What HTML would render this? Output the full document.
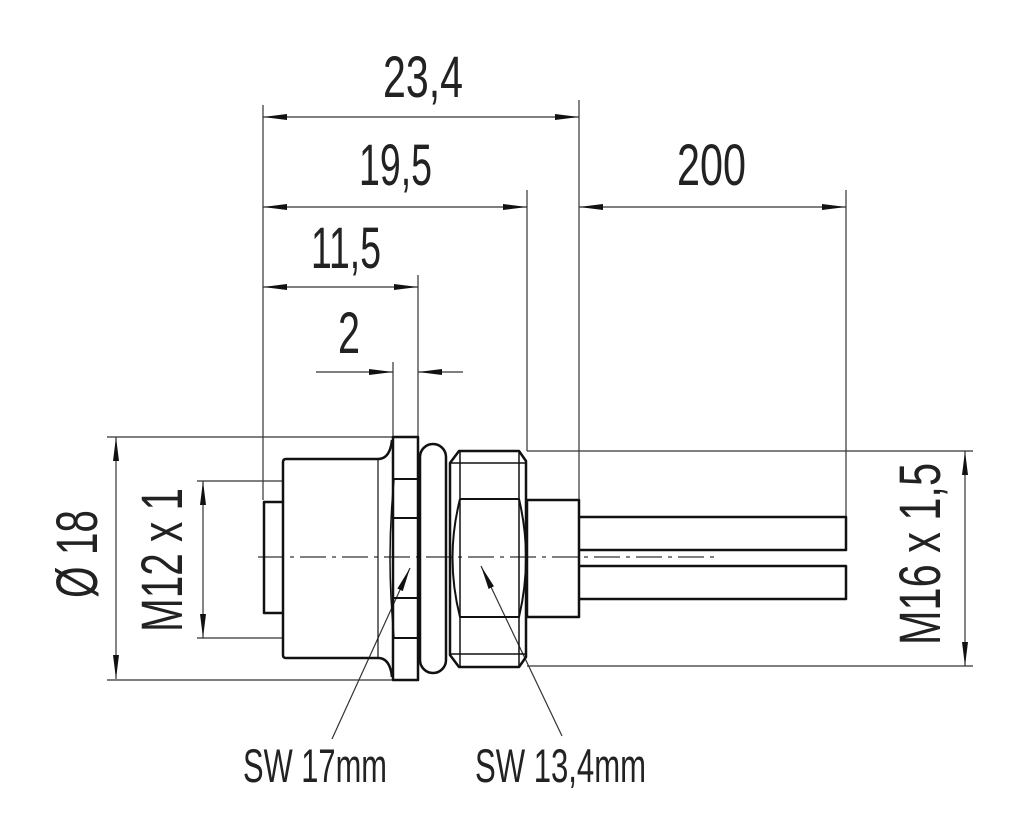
<!DOCTYPE html>
<html><head><meta charset="utf-8"><style>html,body{margin:0;padding:0;background:#fff}svg{display:block}</style></head><body>
<svg width="1023" height="840" viewBox="0 0 1023 840" xmlns="http://www.w3.org/2000/svg">
<defs>
<marker id="a" viewBox="0 0 24 8" refX="24" refY="4" markerWidth="24" markerHeight="8" markerUnits="userSpaceOnUse" orient="auto-start-reverse"><path d="M0,1 L24,4 L0,7 Z" fill="#111"/></marker>
</defs>
<g font-family="Liberation Sans, sans-serif" fill="#222" font-size="58">
<text x="383" y="97" textLength="80" lengthAdjust="spacingAndGlyphs">23,4</text>
<text x="359" y="185" textLength="73" lengthAdjust="spacingAndGlyphs">19,5</text>
<text x="677" y="185" textLength="69" lengthAdjust="spacingAndGlyphs">200</text>
<text x="311" y="268" textLength="70" lengthAdjust="spacingAndGlyphs">11,5</text>
<text x="338" y="353" textLength="22" lengthAdjust="spacingAndGlyphs">2</text>
<text transform="translate(97,598) rotate(-90)" textLength="88" lengthAdjust="spacingAndGlyphs">Ø 18</text>
<text transform="translate(182,632) rotate(-90)" textLength="144" lengthAdjust="spacingAndGlyphs">M12 x 1</text>
<text transform="translate(940,645) rotate(-90)" textLength="182" lengthAdjust="spacingAndGlyphs">M16 x 1,5</text>
<text x="243" y="782" font-size="47" textLength="144" lengthAdjust="spacingAndGlyphs">SW 17mm</text>
<text x="475" y="782" font-size="47" textLength="171" lengthAdjust="spacingAndGlyphs">SW 13,4mm</text>
</g>
<g stroke="#333" stroke-width="1.2" fill="none">
<line x1="263" y1="105" x2="263" y2="500"/>
<line x1="579" y1="100" x2="579" y2="500"/>
<line x1="527" y1="190" x2="527" y2="451"/>
<line x1="418" y1="275" x2="418" y2="437"/>
<line x1="393" y1="362" x2="393" y2="437"/>
<line x1="846" y1="190" x2="846" y2="517"/>
<line x1="107" y1="437" x2="393" y2="437"/>
<line x1="107" y1="680" x2="393" y2="680"/>
<line x1="197" y1="481" x2="283" y2="481"/>
<line x1="197" y1="638" x2="283" y2="638"/>
<line x1="527" y1="451" x2="973" y2="451"/>
<line x1="527" y1="666" x2="973" y2="666"/>
<line x1="263" y1="117" x2="579" y2="117" marker-start="url(#a)" marker-end="url(#a)"/>
<line x1="263" y1="207" x2="527" y2="207" marker-start="url(#a)" marker-end="url(#a)"/>
<line x1="579" y1="207" x2="846" y2="207" marker-start="url(#a)" marker-end="url(#a)"/>
<line x1="263" y1="287" x2="418" y2="287" marker-start="url(#a)" marker-end="url(#a)"/>
<line x1="316" y1="372" x2="393" y2="372" marker-end="url(#a)"/>
<line x1="463" y1="372" x2="418" y2="372" marker-end="url(#a)"/>
<line x1="116" y1="437" x2="116" y2="679" marker-start="url(#a)" marker-end="url(#a)"/>
<line x1="203" y1="481" x2="203" y2="638" marker-start="url(#a)" marker-end="url(#a)"/>
<line x1="965" y1="451" x2="965" y2="666" marker-start="url(#a)" marker-end="url(#a)"/>
<line x1="332" y1="739" x2="410" y2="568" marker-end="url(#a)"/>
<line x1="562" y1="736" x2="481" y2="566" marker-end="url(#a)"/>
<line x1="258" y1="557" x2="720" y2="557" stroke-dasharray="26,6,4,6"/>
</g>
<g stroke="#111" stroke-width="2.5" fill="none" stroke-linejoin="round">
<path d="M283,502 H264 V613 H283"/>
<path d="M286,459 H378 Q390,459 392,440 M286,459 Q283,459 283,462 V655 Q283,658 286,658 H378 Q390,658 392,677"/>
<line x1="378" y1="459" x2="378" y2="658" stroke-width="1.2"/>
<rect x="393" y="437" width="25" height="243"/>
<path d="M393,479 H418 M393,518 H418 M393,598 H418 M393,638 H418" stroke-width="2"/>
<path d="M394,480 Q386,558 394,637" stroke-width="1.5"/>
<rect x="420" y="444" width="26" height="229" rx="13"/>
<path d="M459,451 H519 L526,461 V657 L519,667 H459 L450,655 V463 Z"/>
<path d="M460,451 V667 M519,451 V667 M450,463 H526 M450,654 H526" stroke-width="1.5"/>
<path d="M460,499 H519 Q533,558 519,617 H460 Q445,558 460,499" stroke-width="2"/>
<rect x="527" y="500" width="52" height="117"/>
<path d="M579,517 H846 V550 H579"/>
<path d="M579,566 H846 V599 H579"/>
</g>
</svg>
</body></html>
